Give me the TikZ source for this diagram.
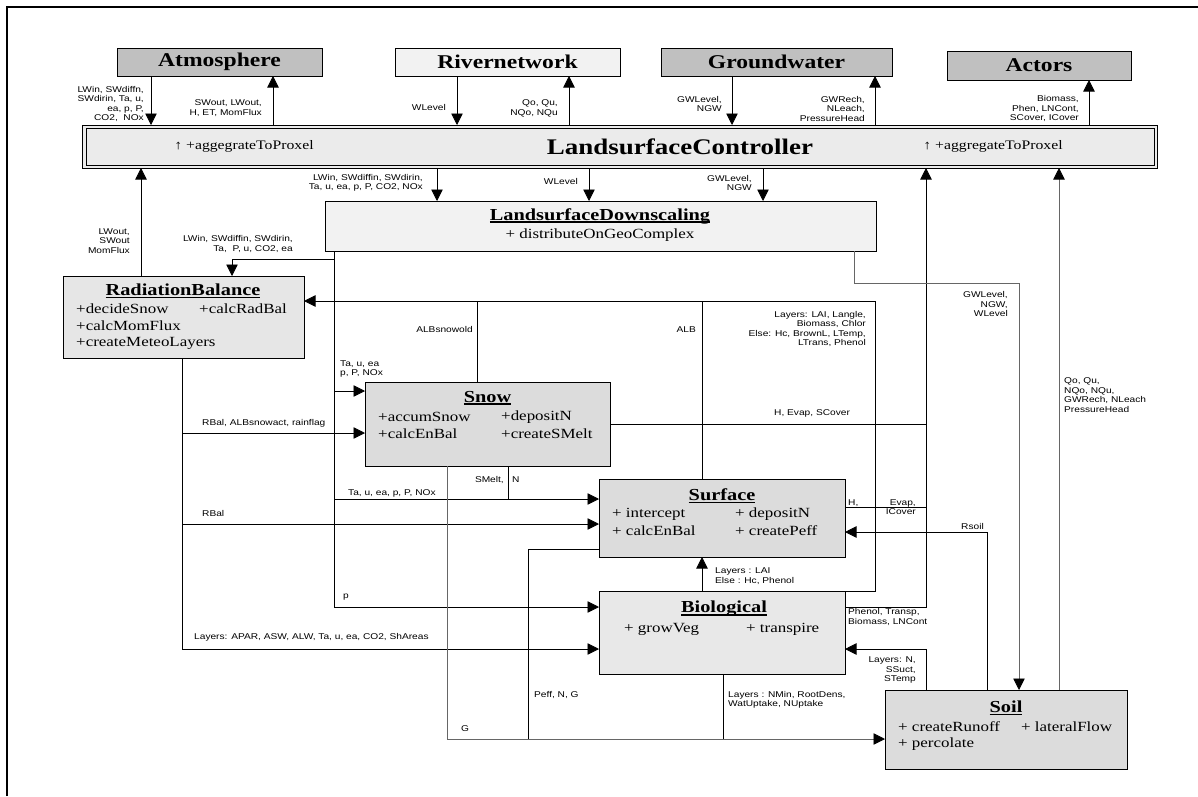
\documentclass[tikz,border=0pt]{standalone}
\usepackage{fontspec}
\setmainfont{Liberation Serif}[FakeStretch=1.21]
\newfontfamily\labfont{Liberation Sans}[FakeStretch=1.21]
\usetikzlibrary{arrows.meta}

\definecolor{topdark}{HTML}{C0C0C0}
\definecolor{lightfill}{HTML}{F2F2F2}
\definecolor{ctrlfill}{HTML}{EBEBEB}
\definecolor{radfill}{HTML}{E6E6E6}
\definecolor{modfill}{HTML}{DCDCDC}
\definecolor{biofill}{HTML}{E8E8E8}

\newsavebox\ulsave
\newcommand\ultitle[1]{\sbox\ulsave{\bfseries #1}\rlap{\rule[-2.6pt]{\wd\ulsave}{1.4pt}}\usebox\ulsave}

\tikzset{
  box/.style={draw, line width=0.9pt, outer sep=0pt, inner sep=0pt},
  wire/.style={line width=0.8pt},
  greywire/.style={line width=0.8pt, draw=black!60},
  tip/.style={-{Triangle[length=11.5pt,width=11.5pt,color=black]}},
  arr/.style={wire, tip},
  greyarr/.style={greywire, tip},
  lab/.style={font=\labfont\fontsize{8.4}{9.5}\selectfont, inner sep=0pt},
  labr/.style={lab, align=right, anchor=east},
  labl/.style={lab, align=left, anchor=west},
  meth/.style={font=\fontsize{14}{17}\selectfont, inner sep=0pt, anchor=west},
  ttl/.style={font=\fontsize{16.8}{20}\selectfont, inner sep=0pt},
  toptitle/.style={font=\fontsize{19.5}{22}\selectfont\bfseries},
}

\begin{document}
\begin{tikzpicture}[x=1pt,y=-1pt]
\useasboundingbox (0,0) rectangle (1198,796);
\draw[line width=2pt] (7,796) -- (7,7) -- (1198,7);

% ---------- external systems ----------
\node[box, fill=topdark, minimum width=205pt, minimum height=28pt, toptitle] (atm) at (219.5,62) {Atmosphere};
\node[box, fill=lightfill, minimum width=225pt, minimum height=28pt, toptitle] (riv) at (507.5,62) {Rivernetwork};
\node[box, fill=topdark, minimum width=231pt, minimum height=28pt, toptitle] (gw) at (776.5,62) {Groundwater};
\node[box, fill=topdark, minimum width=184pt, minimum height=29pt, toptitle] (act) at (1039,65.5) {Actors};

% ---------- controller ----------
\node[box, fill=ctrlfill, minimum width=1075pt, minimum height=43pt] (ctrl) at (619.5,146.5) {};
\draw[line width=0.9pt] ([shift={(4,3)}]ctrl.north west) rectangle ([shift={(-3,-3)}]ctrl.south east);
\node[font=\fontsize{13}{15}\selectfont, inner sep=0pt] (aggL) at (244,146) {↑ +aggegrateToProxel};
\node[font=\fontsize{22.3}{26}\selectfont\bfseries, inner sep=0pt] (ctrlT) at (680,147) {LandsurfaceController};
\node[font=\fontsize{13}{15}\selectfont, inner sep=0pt] (aggR) at (993,146) {↑ +aggregateToProxel};

% ---------- downscaling ----------
\node[box, fill=lightfill, minimum width=551pt, minimum height=50pt] (down) at (600.5,226) {};
\node[ttl] (downT) at (600,216) {\ultitle{LandsurfaceDownscaling}};
\node[meth, anchor=center] (downM) at (600,235) {+ distributeOnGeoComplex};

% ---------- process modules ----------
\node[box, fill=radfill, minimum width=241pt, minimum height=82pt] (rad) at (183.5,317) {};
\node[ttl] (radT) at (183,291) {\ultitle{RadiationBalance}};
\node[meth] (rad1) at (76,309) {+decideSnow};
\node[meth] (rad2) at (199,309) {+calcRadBal};
\node[meth] (rad3) at (76,326) {+calcMomFlux};
\node[meth] (rad4) at (76,343) {+createMeteoLayers};

\node[box, fill=modfill, minimum width=245pt, minimum height=84pt] (snow) at (487.5,424) {};
\node[ttl] (snowT) at (487.5,398) {\ultitle{Snow}};
\node[meth] (snow1) at (378,417) {+accumSnow};
\node[meth] (snow2) at (501,417) {+depositN};
\node[meth] (snow3) at (378,434) {+calcEnBal};
\node[meth] (snow4) at (501,434) {+createSMelt};

\node[box, fill=modfill, minimum width=246pt, minimum height=78pt] (surf) at (722,518) {};
\node[ttl] (surfT) at (722,496) {\ultitle{Surface}};
\node[meth] (surf1) at (612,514) {+ intercept};
\node[meth] (surf2) at (735,514) {+ depositN};
\node[meth] (surf3) at (612,531) {+ calcEnBal};
\node[meth] (surf4) at (735,531) {+ createPeff};

\node[box, fill=biofill, minimum width=246pt, minimum height=83pt] (bio) at (722,632.5) {};
\node[ttl] (bioT) at (724,609) {\ultitle{Biological}};
\node[meth] (bio1) at (624,629) {+ growVeg};
\node[meth] (bio2) at (746,629) {+ transpire};

\node[box, fill=modfill, minimum width=242pt, minimum height=79pt] (soil) at (1006,729.5) {};
\node[ttl] (soilT) at (1006,708) {\ultitle{Soil}};
\node[meth] (soil1) at (898,727) {+ createRunoff};
\node[meth] (soil2) at (1021,727) {+ lateralFlow};
\node[meth] (soil3) at (898,744) {+ percolate};

% ---------- exchange with external systems ----------
\draw[arr] (atm.south -| 151,0) -- (ctrl.north -| 151,0);
\draw[arr] (ctrl.north -| 273,0) -- (atm.south -| 273,0);
\draw[arr] (riv.south -| 457,0) -- (ctrl.north -| 457,0);
\draw[arr] (ctrl.north -| 569,0) -- (riv.south -| 569,0);
\draw[arr] (gw.south -| 732,0) -- (ctrl.north -| 732,0);
\draw[arr] (ctrl.north -| 875,0) -- (gw.south -| 875,0);
\draw[arr] (ctrl.north -| 1089,0) -- (act.south -| 1089,0);

\node[labr] (lAtmIn) at (144,104) {LWin, SWdiffn,\\SWdirin, Ta, u,\\ea, p, P,\\CO2,\ \ NOx};
\node[labr] (lAtmOut) at (262,108) {SWout, LWout,\\H, ET, MomFlux};
\node[labr] (lRivIn) at (446,107) {WLevel};
\node[labr] (lRivOut) at (558,108.5) {Qo, Qu,\\NQo, NQu};
\node[labr] (lGwIn) at (722,104) {GWLevel,\\NGW};
\node[labr] (lGwOut) at (865,108.5) {GWRech,\\NLeach,\\PressureHead};
\node[labr] (lAct) at (1079,108.5) {Biomass,\\Phen, LNCont,\\SCover, ICover};

% ---------- controller <-> modules ----------
\draw[arr] (rad.north -| 141,0) -- (ctrl.south -| 141,0);
\node[labr] (lRadUp) at (130,241) {LWout,\\SWout\\MomFlux};
\foreach \xx in {437,589,763} \draw[arr] (ctrl.south -| \xx,0) -- (down.north -| \xx,0);
\node[labr] (lDown1) at (423,183) {LWin, SWdiffin, SWdirin,\\Ta, u, ea, p, P, CO2, NOx};
\node[labr] (lDown2) at (578,181) {WLevel};
\node[labr] (lDown3) at (752,183) {GWLevel,\\NGW};

% ---------- meteorological trunk from downscaling ----------
\coordinate (dj1) at (334,259);
\coordinate (dj2) at (334,391);
\coordinate (dj3) at (334,499);
\coordinate (dj4) at (334,607);
\draw[wire] (down.south -| dj1) -- (dj4);
\draw[arr] (dj1) -- (232,259) -- (rad.north -| 232,0);
\draw[arr] (dj2) -- (snow.west |- dj2);
\draw[arr] (dj3) -- (surf.west |- dj3);
\draw[arr] (dj4) -- (bio.west |- dj4);
\node[labr] (lRadIn) at (293,244) {LWin, SWdiffin, SWdirin,\\Ta,\ \ P, u, CO2, ea};
\node[labl] (lSnowIn) at (340,369) {Ta, u, ea\\p, P, NOx};
\node[labl] (lSurfIn) at (348,493) {Ta, u, ea, p, P, NOx};
\node[labl] (lBioIn) at (343,597) {p};

% ---------- radiation trunk ----------
\coordinate (rj1) at (182,433);
\coordinate (rj2) at (182,524);
\coordinate (rj3) at (182,649);
\draw[wire] (rad.south -| rj1) -- (rj3);
\draw[arr] (rj1) -- (snow.west |- rj1);
\draw[arr] (rj2) -- (surf.west |- rj2);
\draw[arr] (rj3) -- (bio.west |- rj3);
\node[labl] (lRb1) at (202,423) {RBal, ALBsnowact, rainflag};
\node[labl] (lRb2) at (202,513) {RBal};
\node[labl] (lRb3) at (194,637) {Layers: APAR, ASW, ALW, Ta, u, ea, CO2, ShAreas};

% ---------- albedo and canopy feedback to radiation ----------
\coordinate (albR) at (875,301);
\draw[arr] (albR) -- (rad.east |- albR);
\draw[wire] (snow.north -| 477,0) -- (477,301);
\draw[wire] (surf.north -| 702,0) -- (702,301);
\draw[wire] (bio.north east) -- (875,591) -- (albR);
\draw[arr] (bio.north -| 702,0) -- (surf.south -| 702,0);
\node[labr] (lAlbS) at (473,329) {ALBsnowold};
\node[labr] (lAlb) at (696,330) {ALB};
\node[labr] (lCanopy) at (866,329) {Layers: LAI, Langle,\\Biomass, Chlor\\Else: Hc, BrownL, LTemp,\\LTrans, Phenol};
\node[labl] (lLai) at (715,576) {Layers : LAI\\Else : Hc, Phenol};

% ---------- aggregation back to controller ----------
\coordinate (cj) at (926,607);
\draw[arr] (bio.east |- cj) -- (cj) -- (ctrl.south -| cj);
\draw[wire] (snow.east) -- (snow.east -| cj);
\draw[wire] (surf.east |- 0,507) -- (926,507);
\node[labl] (lSnowOut) at (774,413) {H, Evap, SCover};
\node[labl] (lSurfH) at (848,503) {H,};
\node[labr] (lSurfE) at (916,507) {Evap,\\ICover};
\node[labl] (lBioOut) at (848,617) {Phenol, Transp,\\Biomass, LNCont};

% ---------- soil exchanges ----------
\draw[arr] (soil.north -| 926,0) -- (926,649) -- (bio.east |- 0,649);
\draw[arr] (soil.north -| 987,0) -- (987,532) -- (surf.east |- 0,532);
\draw[greyarr] (down.south -| 854,0) -- (854,283) -- (1019,283) -- (soil.north -| 1019,0);
\draw[greyarr] (soil.north -| 1059,0) -- (ctrl.south -| 1059,0);
\node[labr] (lSoilBio) at (916,670) {Layers: N,\\SSuct,\\STemp};
\node[labr] (lRsoil) at (984,526) {Rsoil};
\node[labr] (lGwSoil) at (1008,304) {GWLevel,\\NGW,\\WLevel};
\node[labl] (lSoilUp) at (1064,395) {Qo, Qu,\\NQo, NQu,\\GWRech, NLeach\\PressureHead};

% ---------- flows into soil ----------
\coordinate (sj) at (447,739);
\draw[wire] (snow.south -| 508,0) -- (508,499);
\draw[greywire] (snow.south -| sj) -- (sj);
\draw[greyarr] (sj) -- (soil.west |- sj);
\draw[wire] (surf.west |- 0,549) -- (528,549) -- (528,739);
\draw[wire] (bio.south -| 723,0) -- (723,739);
\node[labr] (lSmelt) at (504,480) {SMelt,};
\node[labl] (lSmeltN) at (512,480) {N};
\node[labl] (lPeff) at (534,695) {Peff, N, G};
\node[labl] (lG) at (461,729) {G};
\node[labl] (lUptake) at (728,700) {Layers : NMin, RootDens,\\WatUptake, NUptake};
\end{tikzpicture}
\end{document}
